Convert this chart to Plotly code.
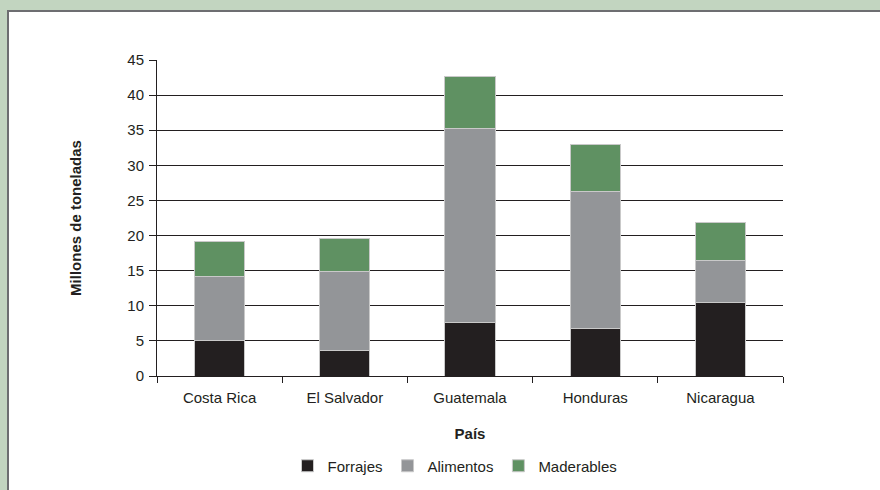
import plotly.graph_objects as go

paises = ["Costa Rica", "El Salvador", "Guatemala", "Honduras", "Nicaragua"]
forrajes = [5.0, 3.7, 7.6, 6.7, 10.5]
alimentos = [9.1, 11.2, 27.6, 19.6, 6.0]
maderables = [5.0, 4.7, 7.5, 6.6, 5.4]
y_ticks = [0, 5, 10, 15, 20, 25, 30, 35, 40, 45]

ink = "#231f20"
font = "Liberation Sans, Arial, sans-serif"

fig = go.Figure()
for name, vals, col in [("Forrajes", forrajes, "#231f20"),
                        ("Alimentos", alimentos, "#939598"),
                        ("Maderables", maderables, "#5f9162")]:
    fig.add_trace(go.Bar(x=paises, y=vals, name=name, marker_color=col,
                         marker_line_color="#c9c9c9", marker_line_width=1))

# plot area in pixels: x 157..783, y 60..376
L, R, T, B = 157, 97, 60, 114
W, H = 880, 490
pw, ph = W - L - R, H - T - B

def px(x):
    return (x - L) / pw

def py(y):
    return (H - B - y) / ph

fig.add_shape(type="rect", xref="paper", yref="paper",
              x0=px(8), x1=px(900), y0=py(11), y1=py(520),
              fillcolor="white", line=dict(color="#6d6e71", width=2), layer="below")

fig.update_layout(
    width=W, height=H, barmode="stack", bargap=0.6,
    margin=dict(l=L, r=R, t=T, b=B, autoexpand=False),
    paper_bgcolor="#c2d5c0", plot_bgcolor="white",
    font=dict(family=font, size=15, color=ink),
    showlegend=True,
    legend=dict(orientation="h", xref="container", yref="container",
                x=455 / W, xanchor="center", y=(H - 466) / H, yanchor="middle",
                font=dict(size=15, color=ink), bgcolor="rgba(0,0,0,0)",
                itemwidth=30, traceorder="normal"),
    xaxis=dict(title=dict(text="<b>País</b>", font=dict(size=15), standoff=23),
               automargin=False,
               showline=True, linecolor=ink, linewidth=1,
               ticks="outside", tickson="boundaries", ticklen=6, tickcolor=ink,
               ticklabelstandoff=8, showgrid=False),
    yaxis=dict(title=dict(text="<b>Millones de toneladas</b>", font=dict(size=15), standoff=42),
               automargin=False,
               range=[0, 45], tickvals=y_ticks, showline=True, linecolor=ink, linewidth=1,
               ticks="outside", ticklen=7, tickcolor=ink, ticklabelstandoff=2,
               showgrid=True, gridcolor=ink, gridwidth=1, zeroline=False),
)
fig.write_html("out.html", config={"displayModeBar": False},
               post_script="document.body.style.margin='0';document.body.style.padding='0';"
                           "document.body.style.background='#c2d5c0';")
